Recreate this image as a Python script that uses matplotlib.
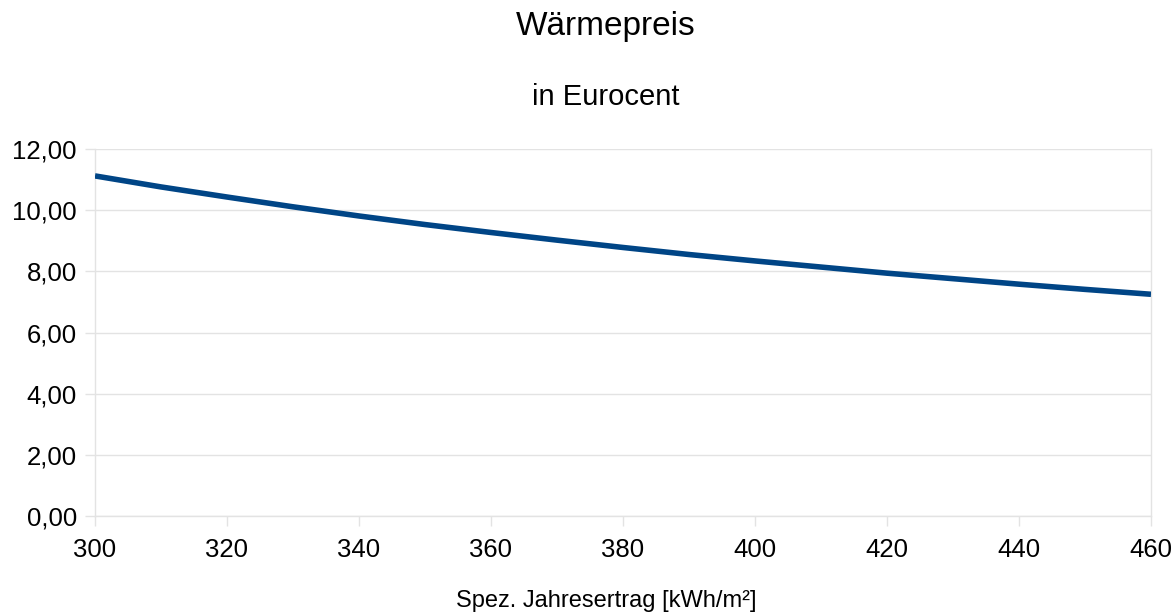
import matplotlib
matplotlib.use("Agg")
import matplotlib.pyplot as plt
from matplotlib.ticker import FuncFormatter

plt.rcParams['font.family'] = ['Liberation Sans', 'DejaVu Sans']

ertrag = [300, 310, 320, 330, 340, 350, 360, 370, 380, 390, 400, 410, 420, 430, 440, 450, 460]
preis = [11.12, 10.76, 10.43, 10.11, 9.81, 9.53, 9.27, 9.02, 8.78, 8.55, 8.34, 8.14, 7.94, 7.76, 7.58, 7.41, 7.25]
x_ticks = [300, 320, 340, 360, 380, 400, 420, 440, 460]
y_ticks = [0, 2, 4, 6, 8, 10, 12]

title = "Wärmepreis"
subtitle = "in Eurocent"
xlabel = "Spez. Jahresertrag [kWh/m²]"

fig = plt.figure(figsize=(11.76, 6.12), dpi=100)
ax = fig.add_axes([95/1176, 1 - 516/612, (1151-95)/1176, (516-149)/612])

grid_c = "#e3e3e3"
ax.plot(ertrag, preis, color="#004586", linewidth=4.0, solid_capstyle="butt", zorder=3)

ax.set_xlim(300, 460)
ax.set_ylim(0, 12)
ax.set_xticks(x_ticks)
ax.set_yticks(y_ticks)
ax.yaxis.set_major_formatter(FuncFormatter(lambda v, p: f"{v:.2f}".replace(".", ",")))
ax.grid(axis="y", color=grid_c, linewidth=1)
ax.set_axisbelow(True)

for s in ["left", "right", "bottom"]:
    ax.spines[s].set_color(grid_c)
    ax.spines[s].set_linewidth(1)
ax.spines["top"].set_visible(False)

ax.tick_params(axis="both", direction="out", length=7, width=1, color=grid_c,
               labelsize=18.5, labelcolor="black")
ax.tick_params(axis="x", pad=9)
ax.tick_params(axis="y", pad=6)

fig.text(606/1176, 1 - 27/612, title, ha="center", va="center", fontsize=24)
fig.text(606/1176, 1 - 97/612, subtitle, ha="center", va="center", fontsize=21)
fig.text(606/1176, 1 - 601/612, xlabel, ha="center", va="center", fontsize=17)

fig.savefig("out.png", dpi=100)
